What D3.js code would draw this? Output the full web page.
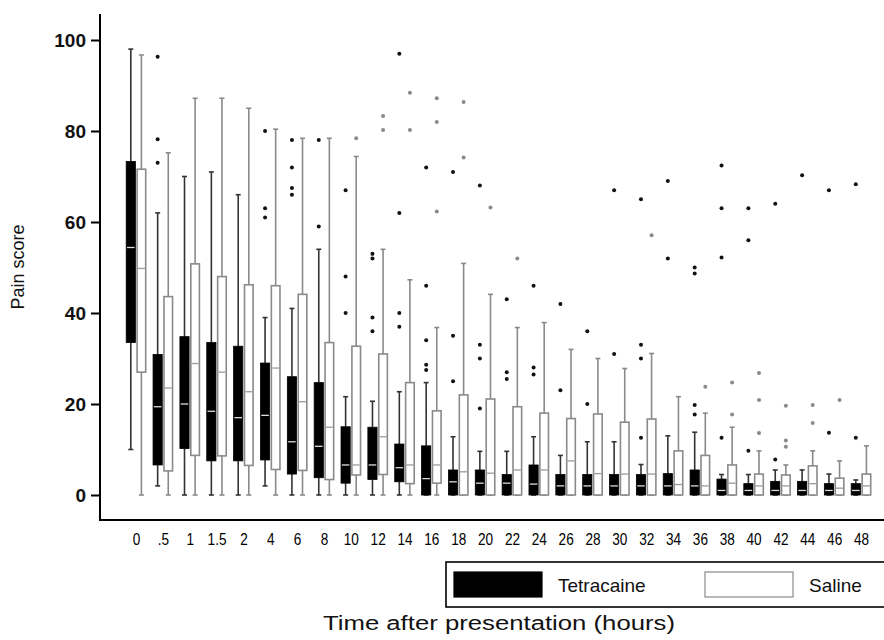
<!DOCTYPE html>
<html><head><meta charset="utf-8">
<script src="https://cdn.jsdelivr.net/npm/d3@7"></script>
<style>
body{margin:0;background:#fff;}
svg{display:block;}
</style></head>
<body>
<script>
const categories = ["0",".5","1","1.5","2","4","6","8","10","12","14","16","18","20","22","24","26","28","30","32","34","36","38","40","42","44","46","48"];
const seriesNames = ["Tetracaine","Saline"];
const yTicks = [0,20,40,60,80,100];
// [low whisker, Q1, median, Q3, high whisker]
const tetracaineBoxes = [
 [10,33.5,54.4,73.3,98],[2,6.6,19.4,30.9,62],[0,10.2,20,34.8,70],[0,7.5,18.4,33.5,71],[0,7.5,17,32.7,66],
 [2,7.7,17.5,29,39],[0,4.6,11.7,26,41],[0,3.8,10.7,24.7,54],[0,2.6,6.6,15,21.6],[0,3.4,6.6,14.9,20.6],
 [0,2.9,6,11.2,22.7],[0,0,3.6,10.8,24.7],[0,0,2.9,5.5,12.8],[0,0,2.6,5.5,9.6],[0,0,2.6,4.5,9.6],
 [0,0,2.4,6.6,12.8],[0,0,2,4.5,8.7],[0,0,2,4.5,11.7],[0,0,2,4.5,11.7],[0,0,2,4.5,6.7],
 [0,0,2,4.7,13],[0,0,2,5.5,13.8],[0,0,1,3.5,4.5],[0,0,1,2.5,4.5],[0,0,1,3,5.5],
 [0,0,1,3,5.5],[0,0,1,2.5,4.6],[0,0,1,2.5,3.3]
];
const tetracaineOutliers = [
 [],[96.3,78.2,73],[],[],[],[80,63,61],[78,72,67.5,66],[78,59],[67,48,40],[53,52,39,36],
 [97,62,40,37],[72,46,34,28.6,27.5],[71,35,25],[68,33,30,19],[43,27,25.5],[46,28,26.5],[42,23],[36,20],[67,31],[65,33,30,12.6],
 [69,52],[50,48.7,19.8,17.7],[72.4,63,52.2,12.6],[63,56,9.7],[64,7.8],[70.3],[67,13.7],[68.3,12.6]
];
const salineBoxes = [
 [0,27,49.8,71.6,96.7],[0,5.3,23.5,43.6,75.2],[0,8.7,28.9,50.8,87.2],[0,8.6,27,48,87.2],[0,6.5,22.7,46.2,85],
 [0,5.6,27.9,46,80.4],[0,5.4,20.5,44.1,78.4],[0,3.4,14.9,33.5,78.4],[0,4.4,6.6,32.7,74.4],[0,4.5,12.8,31,54],
 [0,2.5,6.6,24.7,47.3],[0,2.6,6.6,18.5,36.8],[0,0,5.1,22,50.9],[0,0,4.8,21.1,44.1],[0,0,5.5,19.4,36.8],
 [0,0,5.5,18,37.9],[0,0,7.5,16.8,32],[0,0,4.7,17.8,30],[0,0,4.6,16,27.8],[0,0,4.6,16.7,31.1],
 [0,0,2.3,9.7,21.6],[0,0,2,8.7,18],[0,0,2.6,6.6,14.9],[0,0,2,4.6,9.7],[0,0,2,4.4,6.6],
 [0,0,2.5,6.4,9.7],[0,0,1.5,3.7,7.5],[0,0,2,4.6,10.8]
];
const salineOutliers = [
 [],[],[],[],[],[],[],[],[78.4],[83.3,80.2],
 [88.4,80.2],[87.2,82,62.3],[86.4,74.2],[63.2],[52],[],[],[],[],[57.1],
 [],[23.8],[24.7,17.7],[26.8,20.9,13.6],[19.6,12,10.6],[19.8,15.8],[20.9],[]
];

const W = 884, H = 640;
const svg = d3.select("body").append("svg").attr("width", W).attr("height", H);

const x = d3.scalePoint().domain(categories).range([136, 861]);
const y = d3.scaleLinear().domain([0, 100]).range([495, 40]);
const axisX0 = 100, axisY0 = 520;

const styles = {
  Tetracaine: {off: -5.2, w: 9.2, fill: "#000", stroke: "#000", whisker: "#333", median: "#ddd", out: "#111"},
  Saline: {off: 5.4, w: 8.6, fill: "#fff", stroke: "#8a8a8a", whisker: "#8a8a8a", median: "#9a9a9a", out: "#8a8a8a"}
};
const series = [
  {name: "Tetracaine", boxes: tetracaineBoxes, outliers: tetracaineOutliers},
  {name: "Saline", boxes: salineBoxes, outliers: salineOutliers}
];

series.forEach(s => {
  const st = styles[s.name];
  const g = svg.append("g");
  const items = categories.map((c, i) => ({c, b: s.boxes[i], o: s.outliers[i]}));
  const grp = g.selectAll("g").data(items).join("g")
    .attr("transform", d => `translate(${x(d.c) + st.off},0)`);
  grp.append("line").attr("x1", 0).attr("x2", 0)
    .attr("y1", d => y(d.b[4])).attr("y2", d => y(d.b[3]))
    .attr("stroke", st.whisker).attr("stroke-width", 1.6);
  grp.append("line").attr("x1", 0).attr("x2", 0)
    .attr("y1", d => y(d.b[1])).attr("y2", d => y(d.b[0]))
    .attr("stroke", st.whisker).attr("stroke-width", 1.6);
  grp.append("line").attr("x1", -2.5).attr("x2", 2.5)
    .attr("y1", d => y(d.b[4])).attr("y2", d => y(d.b[4]))
    .attr("stroke", st.whisker).attr("stroke-width", 1.6);
  grp.append("line").attr("x1", -2.5).attr("x2", 2.5)
    .attr("y1", d => y(d.b[0])).attr("y2", d => y(d.b[0]))
    .attr("stroke", st.whisker).attr("stroke-width", 1.6);
  grp.append("rect").attr("x", -st.w / 2).attr("width", st.w)
    .attr("y", d => y(d.b[3])).attr("height", d => Math.max(0.8, y(d.b[1]) - y(d.b[3])))
    .attr("fill", st.fill).attr("stroke", st.stroke).attr("stroke-width", s.name === "Saline" ? 1.6 : 0.8);
  grp.append("line").attr("x1", -st.w / 2 + 0.8).attr("x2", st.w / 2 - 0.8)
    .attr("y1", d => y(d.b[2])).attr("y2", d => y(d.b[2]))
    .attr("stroke", st.median).attr("stroke-width", 1.3);
  grp.selectAll("circle").data(d => d.o).join("circle")
    .attr("cx", 0).attr("cy", v => y(v)).attr("r", 2)
    .attr("fill", st.out);
});

// y axis
const yAxisG = svg.append("g").attr("transform", `translate(${axisX0},0)`);
yAxisG.append("line").attr("x1", 0).attr("x2", 0).attr("y1", 14).attr("y2", axisY0)
  .attr("stroke", "#000").attr("stroke-width", 2);
const yAxis = d3.axisLeft(y).tickValues(yTicks).tickSize(9).tickPadding(5);
const ya = yAxisG.append("g").call(yAxis);
ya.select(".domain").remove();
ya.selectAll(".tick line").attr("stroke", "#000").attr("stroke-width", 2);
ya.selectAll(".tick text").attr("font-family", "Liberation Sans, Arial, sans-serif")
  .attr("font-size", 19).attr("font-weight", "bold").attr("fill", "#111");

// x axis
svg.append("line").attr("x1", axisX0 - 1).attr("x2", W).attr("y1", axisY0).attr("y2", axisY0)
  .attr("stroke", "#000").attr("stroke-width", 2);
const xAxis = d3.axisBottom(x).tickSize(0).tickPadding(13);
const xa = svg.append("g").attr("transform", `translate(0,${axisY0})`).call(xAxis);
xa.select(".domain").remove();
xa.selectAll(".tick text")
  .attr("font-family", "Liberation Sans, Arial, sans-serif")
  .attr("font-size", 17).attr("fill", "#000")
  .attr("transform", "scale(0.8,1)");

svg.append("text").attr("transform", "translate(24,267) rotate(-90)")
  .attr("text-anchor", "middle").attr("font-family", "Liberation Sans, Arial, sans-serif")
  .attr("font-size", 18).attr("fill", "#111").text("Pain score");

svg.append("text").attr("x", 323).attr("y", 630)
  .attr("font-family", "Liberation Sans, Arial, sans-serif").attr("font-size", 20)
  .attr("textLength", 352).attr("lengthAdjust", "spacingAndGlyphs")
  .attr("fill", "#111").text("Time after presentation (hours)");

// legend
const lg = svg.append("g");
lg.append("rect").attr("x", 446).attr("y", 562).attr("width", 445).attr("height", 45)
  .attr("fill", "#fff").attr("stroke", "#000").attr("stroke-width", 1.6);
const legendItems = [
  {name: seriesNames[0], rx: 454, tx: 558},
  {name: seriesNames[1], rx: 705, tx: 809}
];
legendItems.forEach(it => {
  const st = styles[it.name];
  lg.append("rect").attr("x", it.rx).attr("y", 572).attr("width", 88).attr("height", 25)
    .attr("fill", st.fill).attr("stroke", st.stroke).attr("stroke-width", 1.2);
  lg.append("text").attr("x", it.tx).attr("y", 592)
    .attr("font-family", "Liberation Sans, Arial, sans-serif")
    .attr("font-size", 19).attr("fill", "#111").text(it.name);
});
</script>
</body></html>
